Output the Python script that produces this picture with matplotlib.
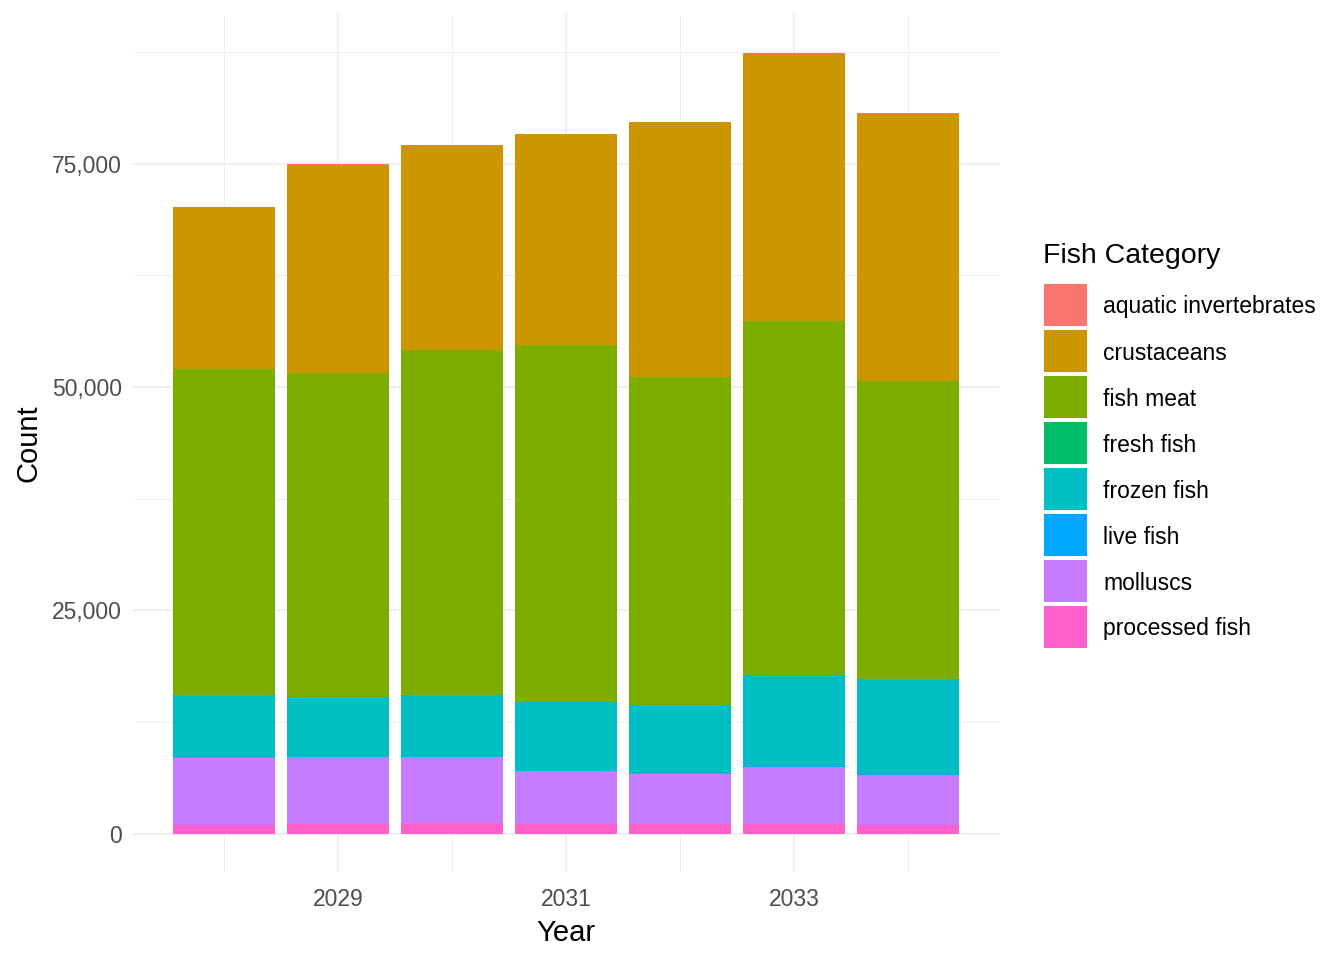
import matplotlib
matplotlib.use("Agg")
import matplotlib.pyplot as plt
from matplotlib.patches import Rectangle
from matplotlib.ticker import MultipleLocator, FuncFormatter
import numpy as np

plt.rcParams['font.family'] = ['Liberation Sans', 'DejaVu Sans']

years = [2028, 2029, 2030, 2031, 2032, 2033, 2034]
categories = ["aquatic invertebrates", "crustaceans", "fish meat", "fresh fish",
              "frozen fish", "live fish", "molluscs", "processed fish"]
colors = ["#F8766D", "#CD9600", "#7CAE00", "#00BE67", "#00BFC4", "#00A9FF", "#C77CFF", "#FF61CC"]

aquatic_invertebrates = [0, 120, 0, 0, 0, 100, 100]
crustaceans = [18100, 23200, 23000, 23600, 28600, 29900, 29900]
fish_meat = [36500, 36300, 38600, 39900, 36700, 39600, 33300]
fresh_fish = [0, 0, 0, 0, 0, 0, 0]
frozen_fish = [7000, 6700, 6900, 7800, 7700, 10200, 10700]
live_fish = [60, 0, 0, 0, 0, 60, 60]
molluscs = [7480, 7500, 7400, 5900, 5600, 6400, 5600]
processed_fish = [1000, 1100, 1200, 1100, 1100, 1100, 1000]

series = [aquatic_invertebrates, crustaceans, fish_meat, fresh_fish,
          frozen_fish, live_fish, molluscs, processed_fish]

fig = plt.figure(figsize=(13.44, 9.6), dpi=100)
ax = fig.add_axes([133/1344, 1 - 873/960, (999-133)/1344, (873-14)/960])

# stack: last category at bottom (ggplot order)
bottom = np.zeros(len(years))
for name, vals, col in reversed(list(zip(categories, series, colors))):
    v = np.array(vals, dtype=float)
    ax.bar(years, v, bottom=bottom, width=0.9, color=col, linewidth=0, zorder=3)
    bottom += v

totals = bottom
ymax = totals.max()
ax.set_ylim(-0.05 * ymax, ymax * 1.05)
ax.set_xlim(2027.2, 2034.8)

ax.set_xticks([2029, 2031, 2033])
ax.set_xticks([2028, 2030, 2032, 2034], minor=True)
ax.yaxis.set_major_locator(MultipleLocator(25000))
ax.yaxis.set_minor_locator(MultipleLocator(12500))
ax.yaxis.set_major_formatter(FuncFormatter(lambda v, p: f"{int(v):,}"))

ax.grid(which='major', color='#EBEBEB', linewidth=1.1, zorder=0)
ax.grid(which='minor', color='#EBEBEB', linewidth=0.55, zorder=0)
for s in ax.spines.values():
    s.set_visible(False)
ax.tick_params(which='both', length=0)
ax.tick_params(axis='y', labelsize=16.5, labelcolor='#4D4D4D', pad=8)
ax.tick_params(axis='x', labelsize=16.5, labelcolor='#4D4D4D', pad=10.5)
ax.set_xlabel("Year", fontsize=21, labelpad=6)
ax.set_ylabel("Count", fontsize=21, labelpad=7)

# legend
fig.text(1043/1344, 1 - 256/960, "Fish Category", fontsize=20.5, va='center', ha='left')
for i, (name, col) in enumerate(zip(categories, colors)):
    y_top = 284 + i * 46
    fig.add_artist(Rectangle((1044/1344, 1 - (y_top + 42)/960), 43/1344, 42/960,
                             transform=fig.transFigure, facecolor=col, edgecolor='none'))
    fig.text(1103/1344, 1 - (y_top + 23)/960, name, fontsize=16.5, va='center', ha='left')

fig.savefig("out.png", dpi=100, facecolor='white')
